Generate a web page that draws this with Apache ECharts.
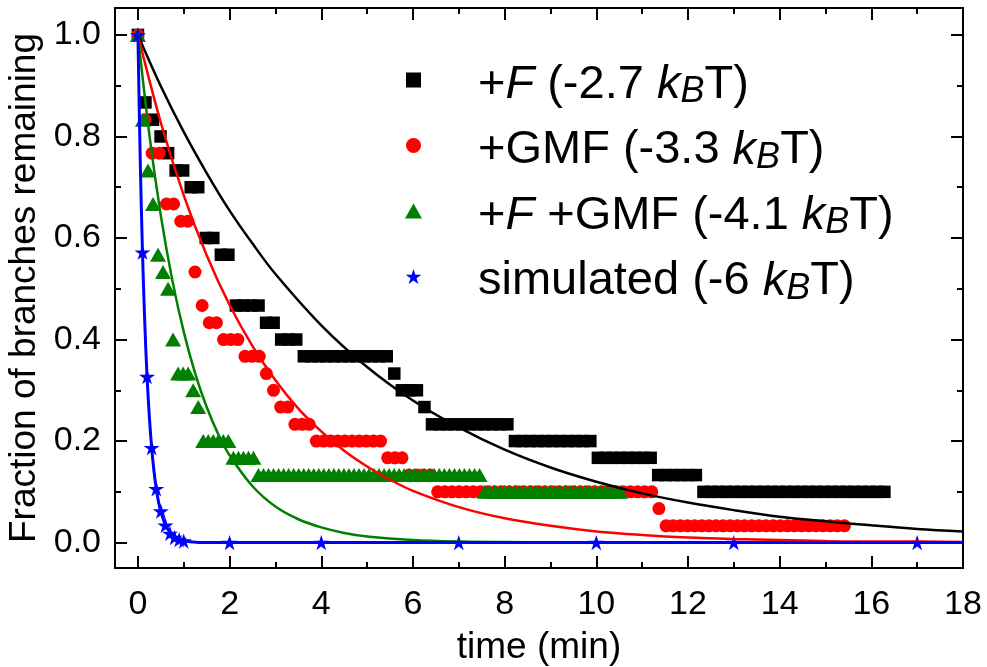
<!DOCTYPE html>
<html>
<head>
<meta charset="utf-8">
<script src="https://cdn.jsdelivr.net/npm/echarts@6/dist/echarts.min.js"></script>
<style>
  html, body { margin: 0; padding: 0; background: #fff; }
  #chart { width: 987px; height: 667px; }
</style>
</head>
<body>
<div id="chart"></div>
<script>
// Fraction of branches remaining vs. time.
// Each measured trace is a step curve sampled once per frame; it is stored as
// runs: a remaining fraction and how many consecutive frames kept that value.

// +F (-2.7 kBT)
const plusF_frameMin = 0.1645;
const plusF_levels = [1.0, 0.867, 0.833, 0.8, 0.767, 0.733, 0.7, 0.6, 0.567, 0.467, 0.433, 0.4, 0.367, 0.333, 0.3, 0.267, 0.233, 0.2, 0.167, 0.133, 0.1];
const plusF_frames = [1, 1, 1, 1, 1, 2, 2, 2, 2, 4, 2, 3, 12, 1, 3, 1, 11, 11, 8, 6, 25];

// +GMF (-3.3 kBT)
const gmf_frameMin = 0.1557;
const gmf_levels = [1.0, 0.833, 0.767, 0.667, 0.633, 0.533, 0.467, 0.433, 0.4, 0.367, 0.333, 0.3, 0.267, 0.233, 0.2, 0.167, 0.133, 0.1, 0.067, 0.033];
const gmf_frames = [1, 1, 2, 2, 2, 1, 1, 2, 3, 3, 1, 1, 2, 3, 10, 3, 4, 31, 1, 26];

// +F +GMF (-4.1 kBT)
const both_frameMin = 0.1096;
const both_levels = [1.0, 0.833, 0.733, 0.667, 0.567, 0.533, 0.5, 0.4, 0.333, 0.3, 0.267, 0.2, 0.167, 0.133, 0.1];
const both_frames = [1, 1, 1, 1, 1, 1, 1, 1, 3, 1, 1, 6, 5, 45, 28];

// simulated (-6 kBT)
const sim_times  = [0, 0.1, 0.2, 0.3, 0.4, 0.5, 0.6, 0.7, 0.8, 0.9, 1.0, 2, 4, 7, 10, 13, 17];
const sim_values = [1, 0.572, 0.327, 0.187, 0.106, 0.062, 0.034, 0.018, 0.010, 0.006, 0.003, 0, 0, 0, 0, 0, 0];

// single-exponential fit curves
const fitF_t = [0, 0.5, 1, 1.5, 2, 2.5, 3, 4, 5, 6, 7, 8, 9, 10, 11, 12, 13, 14, 15, 16, 17, 18];
const fitF_y = [1, 0.899, 0.809, 0.728, 0.654, 0.589, 0.529, 0.428, 0.346, 0.280, 0.227, 0.183, 0.148, 0.120, 0.097, 0.079, 0.064, 0.051, 0.042, 0.034, 0.027, 0.022];

const fitGmf_t = [0, 0.5, 1, 1.5, 2, 2.5, 3, 3.5, 4, 4.5, 5, 5.5, 6, 7, 8, 9, 10, 11, 12, 13, 14, 15, 16, 17, 18];
const fitGmf_y = [1, 0.827, 0.684, 0.566, 0.468, 0.387, 0.320, 0.264, 0.219, 0.181, 0.150, 0.124, 0.102, 0.070, 0.048, 0.033, 0.022, 0.015, 0.010, 0.007, 0.005, 0.003, 0.002, 0.002, 0.001];

const fitBoth_t = [0, 0.25, 0.5, 0.75, 1, 1.25, 1.5, 1.75, 2, 2.5, 3, 3.5, 4, 4.5, 5, 6, 7, 8, 10, 14, 18];
const fitBoth_y = [1, 0.803, 0.644, 0.517, 0.415, 0.333, 0.267, 0.214, 0.172, 0.111, 0.071, 0.046, 0.030, 0.019, 0.012, 0.005, 0.002, 0.001, 0, 0, 0];

const fitSim_t = [0, 0.05, 0.1, 0.15, 0.2, 0.25, 0.3, 0.35, 0.4, 0.45, 0.5, 0.6, 0.7, 0.8, 0.9, 1.0, 1.2, 1.5, 2, 4, 18];
const fitSim_y = [1, 0.756, 0.571, 0.432, 0.326, 0.247, 0.186, 0.141, 0.106, 0.080, 0.061, 0.035, 0.020, 0.011, 0.006, 0.004, 0.001, 0, 0, 0, 0];

// axis ticks
const xMajorTicks = [0, 2, 4, 6, 8, 10, 12, 14, 16, 18];
const xMinorTicks = [1, 3, 5, 7, 9, 11, 13, 15, 17];
const yMajorTicks = [0, 0.2, 0.4, 0.6, 0.8, 1.0];
const yMinorTicks = [0.1, 0.3, 0.5, 0.7, 0.9];

const names = ['+F (-2.7 kBT)', '+GMF (-3.3 kBT)', '+F +GMF (-4.1 kBT)', 'simulated (-6 kBT)'];
const legendRich = {
  '+F (-2.7 kBT)': '+{it|F} (-2.7 {it|k}{sub|B}T)',
  '+GMF (-3.3 kBT)': '+GMF (-3.3 {it|k}{sub|B}T)',
  '+F +GMF (-4.1 kBT)': '+{it|F} +GMF (-4.1 {it|k}{sub|B}T)',
  'simulated (-6 kBT)': 'simulated (-6 {it|k}{sub|B}T)'
};

const FONT = '"Liberation Sans", Arial, sans-serif';
const STAR = 'path://M50,0L61.17,34.63L97.55,34.55L68.07,55.87L79.39,90.45L50,69L20.61,90.45L31.93,55.87L2.45,34.55L38.83,34.63Z';
const SQUARE = 'path://M0,0H10V10H0Z';

function expandRuns(levels, frames, frameMin) {
  const pts = [];
  let frame = 0;
  levels.forEach((v, k) => {
    for (let n = 0; n < frames[k]; n++, frame++) {
      pts.push([+(frame * frameMin).toFixed(4), v]);
    }
  });
  return pts;
}
const zip = (a, b) => a.map((v, i) => [v, b[i]]);

const X_MIN = -0.5, X_MAX = 18, Y_MIN = -0.05, Y_MAX = 1.053;
const tickStyle = { color: '#000', width: 2 };

function xAxis(position, ticks, len, withLabels) {
  const ax = {
    type: 'value', position, min: X_MIN, max: X_MAX,
    splitLine: { show: false },
    axisLine: { show: false, onZero: false },
    axisTick: { show: true, inside: true, length: len, lineStyle: tickStyle, customValues: ticks },
    axisLabel: { show: false }
  };
  if (withLabels) {
    ax.axisLabel = { show: true, customValues: ticks, color: '#000', fontFamily: FONT, fontSize: 34, margin: 20 };
    ax.name = 'time (min)';
    ax.nameLocation = 'middle';
    ax.nameGap = 61;
    ax.nameTextStyle = { color: '#000', fontFamily: FONT, fontSize: 37 };
  }
  return ax;
}
function yAxis(position, ticks, len, withLabels) {
  const ax = {
    type: 'value', position, min: Y_MIN, max: Y_MAX,
    splitLine: { show: false },
    axisLine: { show: false, onZero: false },
    axisTick: { show: true, inside: true, length: len, lineStyle: tickStyle, customValues: ticks },
    axisLabel: { show: false }
  };
  if (withLabels) {
    ax.axisLabel = { show: true, customValues: ticks, color: '#000', fontFamily: FONT, fontSize: 34, margin: 14,
                     formatter: v => v.toFixed(1) };
    ax.name = 'Fraction of branches remaining';
    ax.nameLocation = 'middle';
    ax.nameGap = 70;
    ax.nameTextStyle = { color: '#000', fontFamily: FONT, fontSize: 37 };
  }
  return ax;
}

function fitLine(name, t, y, color, width) {
  return {
    name, type: 'line', data: zip(t, y), showSymbol: false, symbol: 'none',
    smooth: 0.35, lineStyle: { color, width }, silent: true
  };
}

const chart = echarts.init(document.getElementById('chart'), null, { renderer: 'canvas' });
chart.setOption({
  animation: false,
  backgroundColor: '#fff',
  grid: { left: 115, right: 24, top: 8, bottom: 99, outerBoundsMode: 'none', containLabel: false,
          show: true, borderColor: '#000', borderWidth: 2, backgroundColor: 'transparent' },
  xAxis: [
    xAxis('bottom', xMajorTicks, 12, true),
    xAxis('bottom', xMinorTicks, 6, false),
    xAxis('top', xMajorTicks, 12, false),
    xAxis('top', xMinorTicks, 6, false)
  ],
  yAxis: [
    yAxis('left', yMajorTicks, 12, true),
    yAxis('left', yMinorTicks, 6, false),
    yAxis('right', yMajorTicks, 12, false),
    yAxis('right', yMinorTicks, 6, false)
  ],
  legend: {
    orient: 'vertical', left: 405, top: 50, padding: 0,
    itemWidth: 17, itemHeight: 15, itemGap: 5.5,
    selectedMode: false,
    data: [
      { name: names[0], icon: SQUARE },
      { name: names[1], icon: 'circle' },
      { name: names[2], icon: 'triangle' },
      { name: names[3], icon: STAR }
    ],
    formatter: n => legendRich[n],
    textStyle: {
      color: '#000', fontFamily: FONT, fontSize: 47, lineHeight: 50, padding: [10, 0, 0, 51],
      rich: {
        it:  { fontStyle: 'italic', fontFamily: FONT, fontSize: 47, lineHeight: 50, color: '#000' },
        sub: { fontStyle: 'italic', fontFamily: FONT, fontSize: 36, lineHeight: 30, verticalAlign: 'bottom', color: '#000' }
      }
    }
  },
  series: [
    { name: names[0], type: 'scatter', data: expandRuns(plusF_levels, plusF_frames, plusF_frameMin),
      symbol: 'rect', symbolSize: 12.5, itemStyle: { color: '#000000', opacity: 1 } },
    { name: names[1], type: 'scatter', data: expandRuns(gmf_levels, gmf_frames, gmf_frameMin),
      symbol: 'circle', symbolSize: 13, itemStyle: { color: '#ff0000', opacity: 1 } },
    { name: names[2], type: 'scatter', data: expandRuns(both_levels, both_frames, both_frameMin),
      symbol: 'triangle', symbolSize: [16, 14], itemStyle: { color: '#008000', opacity: 1 } },
    { name: names[3], type: 'scatter', data: zip(sim_times, sim_values),
      symbol: STAR, symbolKeepAspect: true, symbolSize: 16, itemStyle: { color: '#0000ff', opacity: 1 } },
    fitLine('fit +F', fitF_t, fitF_y, '#000000', 2.5),
    fitLine('fit +GMF', fitGmf_t, fitGmf_y, '#ff0000', 2.5),
    fitLine('fit +F +GMF', fitBoth_t, fitBoth_y, '#008000', 2.5),
    fitLine('fit simulated', fitSim_t, fitSim_y, '#0000ff', 3)
  ]
});
</script>
</body>
</html>
